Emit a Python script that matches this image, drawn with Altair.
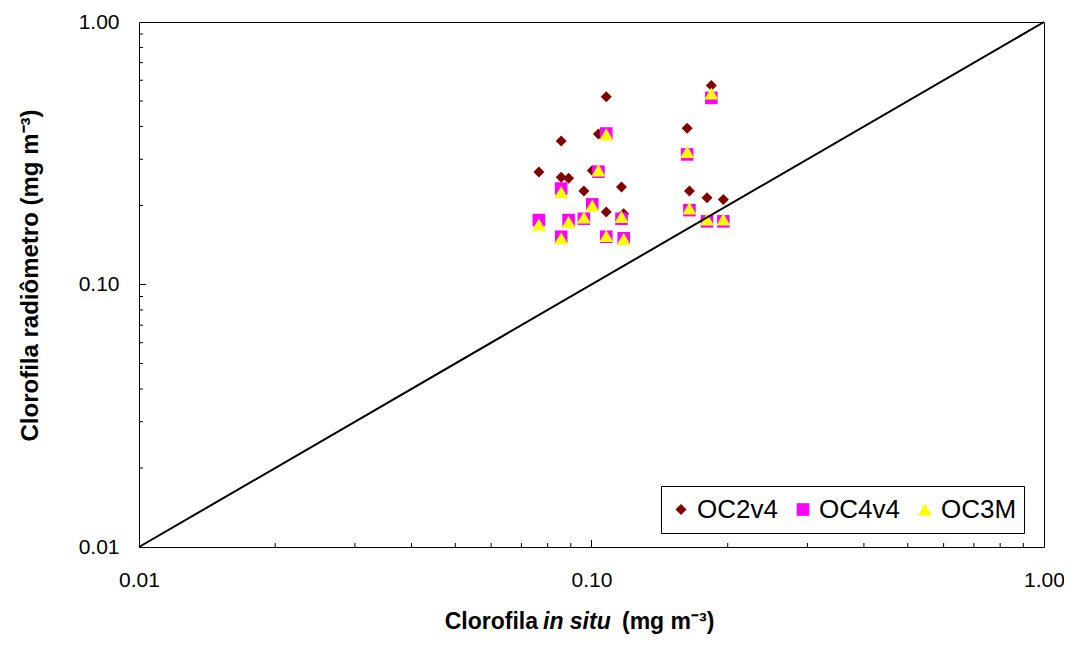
import altair as alt
import pandas as pd

# ---- data ----
series_names = ["OC2v4", "OC4v4", "OC3M"]
series_colors = ["#800000", "#FF00FF", "#FFFF00"]
series_shapes = ["diamond", "square", "triangle-up"]
series_sizes = [121, 196, 289]

insitu = [0.0765, 0.0857, 0.0857, 0.0890, 0.0962, 0.1004, 0.1036, 0.1078,
          0.1078, 0.1165, 0.1178, 0.1627, 0.1646, 0.1800, 0.1840, 0.1956]
oc2v4 = [0.268, 0.352, 0.256, 0.254, 0.227, 0.272, 0.374, 0.519,
         0.189, 0.235, 0.186, 0.394, 0.227, 0.214, 0.573, 0.211]
oc4v4 = [0.176, 0.232, 0.152, 0.176, 0.178, 0.202, 0.269, 0.376,
         0.152, 0.178, 0.150, 0.313, 0.192, 0.174, 0.514, 0.174]
oc3m = [0.169, 0.225, 0.150, 0.173, 0.180, 0.200, 0.272, 0.373,
        0.153, 0.181, 0.149, 0.320, 0.195, 0.177, 0.534, 0.177]

diag = [0.01, 1.0]
axis_values = [0.01, 0.1, 1.0]
minor_ticks = [0.02, 0.03, 0.04, 0.05, 0.06, 0.07, 0.08, 0.09,
               0.2, 0.3, 0.4, 0.5, 0.6, 0.7, 0.8, 0.9]
major_ticks = [0.1]

y_title = "Clorofila radiômetro (mg m⁻³)"
x_title_parts = ["Clorofila", "in situ", "(mg m⁻³)"]

W, H = 905, 525
FONT = "Liberation Sans"

rows = []
k = 0
for name, ys in zip(series_names, [oc2v4, oc4v4, oc3m]):
    for xv, yv in zip(insitu, ys):
        rows.append({"x": xv, "y": yv, "series": name, "idx": k})
        k += 1
df = pd.DataFrame(rows)

xscale = alt.Scale(type="log", domain=[0.01, 1.0], nice=False)
yscale = alt.Scale(type="log", domain=[0.01, 1.0], nice=False)

xaxis = alt.Axis(values=axis_values, format=".2f", ticks=False, domain=False, grid=False,
                 labelFontSize=21, labelFont=FONT, labelColor="black", labelPadding=22,
                 labelFlush=False, labelOverlap=False, title=None)
yaxis = alt.Axis(values=axis_values, format=".2f", ticks=False, domain=False, grid=False,
                 labelFontSize=21, labelFont=FONT, labelColor="black", labelPadding=20,
                 labelFlush=False, labelOverlap=False,
                 title=y_title, titleFont=FONT, titleFontSize=24, titleFontWeight="bold",
                 titleColor="black", titleX=-109, titleY=253, titleAngle=270,
                 titleAlign="center", titleBaseline="middle")

legend = alt.Legend(orient="none", legendX=522, legendY=464, direction="horizontal",
                    title=None, labelFontSize=26, labelFont=FONT, labelColor="black",
                    symbolStrokeWidth=0, padding=7, labelOffset=3, clipHeight=33,
                    columnPadding=12, strokeColor="black", fillColor="white",
                    cornerRadius=0, symbolOpacity=1)

points = alt.Chart(df).mark_point(filled=True, opacity=1, strokeWidth=0).encode(
    x=alt.X("x:Q", scale=xscale, axis=xaxis),
    y=alt.Y("y:Q", scale=yscale, axis=yaxis),
    color=alt.Color("series:N", scale=alt.Scale(domain=series_names, range=series_colors), legend=legend),
    shape=alt.Shape("series:N", scale=alt.Scale(domain=series_names, range=series_shapes), legend=legend),
    size=alt.Size("series:N", scale=alt.Scale(domain=series_names, range=series_sizes), legend=legend),
    order=alt.Order("idx:Q"),
)

line = alt.Chart(pd.DataFrame({"x": diag, "y": diag})).mark_line(
    color="black", strokeWidth=2).encode(
    x=alt.X("x:Q", scale=xscale, axis=xaxis),
    y=alt.Y("y:Q", scale=yscale, axis=yaxis),
)

xminor = alt.Chart(pd.DataFrame({"x": minor_ticks})).mark_rule(color="black", strokeWidth=1).encode(
    x=alt.X("x:Q", scale=xscale, axis=xaxis), y=alt.value(H), y2=alt.value(H - 4))
xmajor = alt.Chart(pd.DataFrame({"x": major_ticks})).mark_rule(color="black", strokeWidth=1).encode(
    x=alt.X("x:Q", scale=xscale, axis=xaxis), y=alt.value(H), y2=alt.value(H - 7))
yminor = alt.Chart(pd.DataFrame({"y": minor_ticks})).mark_rule(color="black", strokeWidth=1).encode(
    y=alt.Y("y:Q", scale=yscale, axis=yaxis), x=alt.value(0), x2=alt.value(4))
ymajor = alt.Chart(pd.DataFrame({"y": major_ticks})).mark_rule(color="black", strokeWidth=1).encode(
    y=alt.Y("y:Q", scale=yscale, axis=yaxis), x=alt.value(0), x2=alt.value(7))

TY = 607
t1 = alt.Chart(pd.DataFrame({"t": [x_title_parts[0]]})).mark_text(
    font=FONT, fontSize=23, fontWeight="bold", align="right", baseline="alphabetic", color="black"
).encode(text="t:N", x=alt.value(399), y=alt.value(TY))
t2 = alt.Chart(pd.DataFrame({"t": [x_title_parts[1]]})).mark_text(
    font=FONT, fontSize=23, fontWeight="bold", fontStyle="italic", align="left",
    baseline="alphabetic", color="black"
).encode(text="t:N", x=alt.value(404), y=alt.value(TY))
t3 = alt.Chart(pd.DataFrame({"t": [x_title_parts[2]]})).mark_text(
    font=FONT, fontSize=23, fontWeight="bold", align="left", baseline="alphabetic", color="black"
).encode(text="t:N", x=alt.value(483), y=alt.value(TY))

chart = alt.layer(points, line, xminor, xmajor, yminor, ymajor, t1, t2, t3).properties(
    width=W, height=H,
    autosize=alt.AutoSizeParams(type="none"),
    padding={"left": 131, "top": 14, "right": 20, "bottom": 91},
    background="white",
).configure_view(stroke="black", strokeWidth=1)

chart.save("out.html", embed_options={"renderer": "svg", "actions": False})
